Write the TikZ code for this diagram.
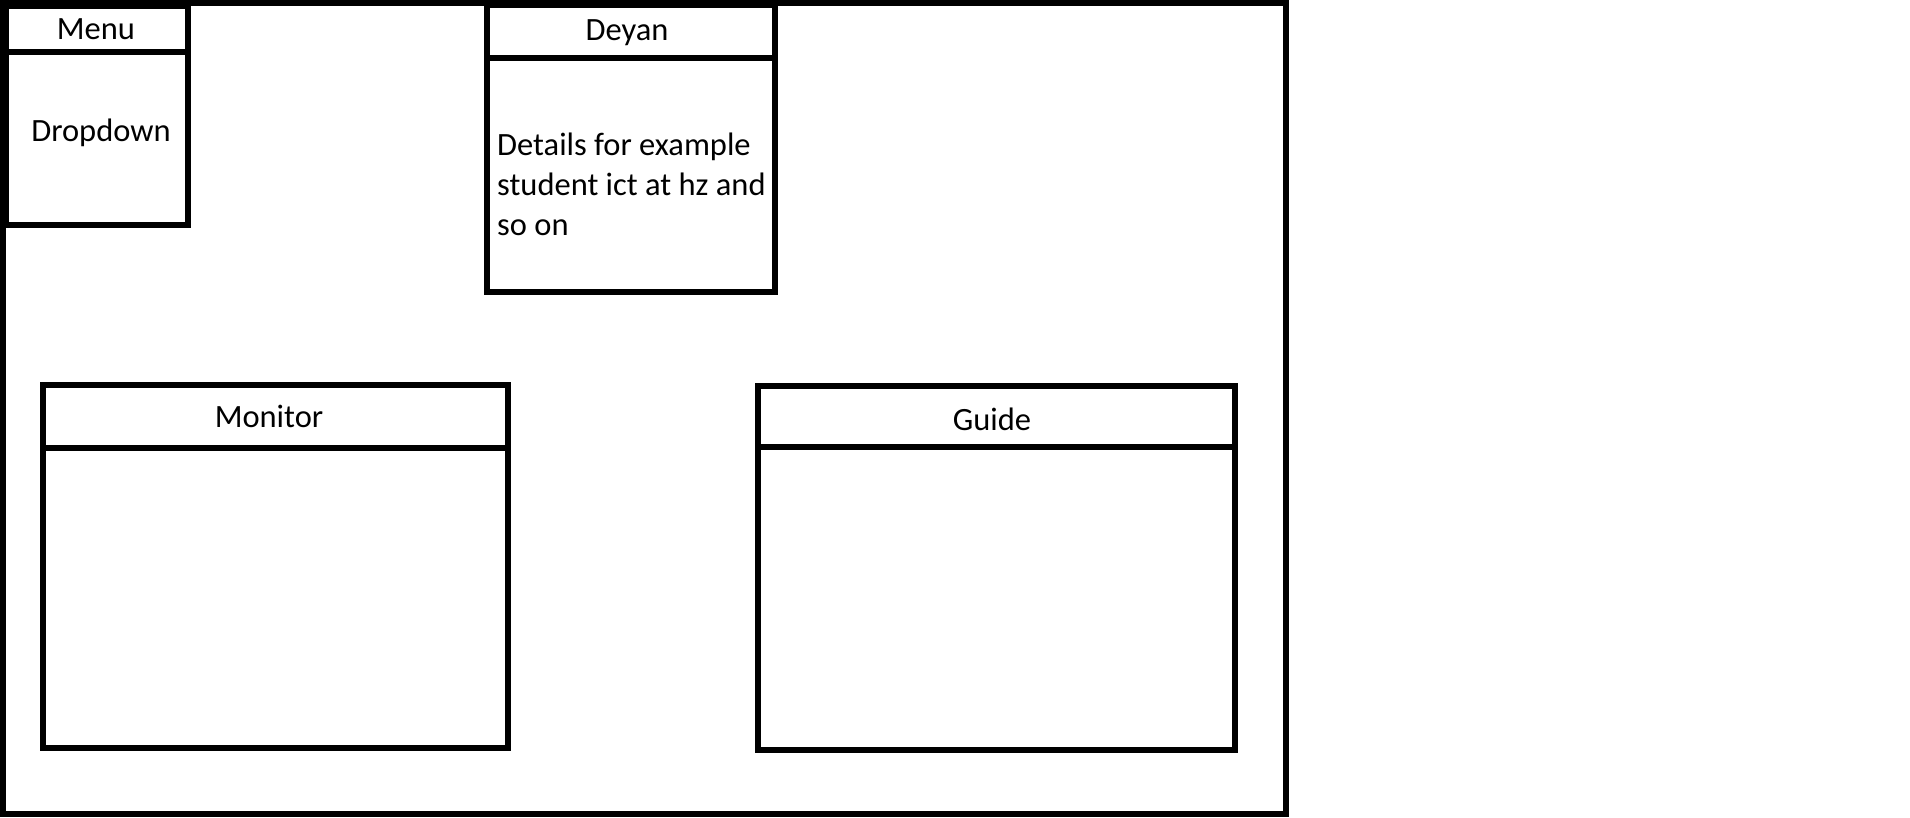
\documentclass[tikz,border=0pt]{standalone}
\usepackage{fontspec}
\setmainfont{Carlito}
\begin{document}
\begin{tikzpicture}[x=1pt,y=-1pt,
  frame/.style={draw=black,line width=5.5pt,inner sep=0pt,outer sep=0pt,anchor=north west},
  lbl/.style={inner sep=0pt,font=\fontsize{32.5}{40}\selectfont},
]
\useasboundingbox (0,0) rectangle (1910,817);
% outer frame
\node[frame,minimum width=1283pt,minimum height=811pt] (outer) at (3,3) {};
% Menu
\node[frame,minimum width=182pt,minimum height=173pt] (menub) at (6,52) {};
\node[frame,minimum width=182pt,minimum height=46pt] (menuh) at (6,6) {};
\node[lbl] (menut) at (96,29) {Menu};
\node[lbl] (dropt) at (101,133) {Dropdown};
% Deyan
\node[frame,minimum width=288pt,minimum height=234pt] (deyanb) at (487,58) {};
\node[frame,minimum width=288pt,minimum height=53pt] (deyanh) at (487,5) {};
\node[lbl] (deyant) at (627,33) {Deyan};
\node[lbl,anchor=base west,align=left] (dett) at (497,235) {Details for example\\student ict at hz and\\so on};
% Monitor
\node[frame,minimum width=465pt,minimum height=300pt] (monb) at (43,448) {};
\node[frame,minimum width=465pt,minimum height=63pt] (monh) at (43,385) {};
\node[lbl] (mont) at (269,416) {Monitor};
% Guide
\node[frame,minimum width=477pt,minimum height=303pt] (guib) at (758,447) {};
\node[frame,minimum width=477pt,minimum height=61pt] (guih) at (758,386) {};
\node[lbl] (guit) at (992,419) {Guide};
\end{tikzpicture}
\end{document}
